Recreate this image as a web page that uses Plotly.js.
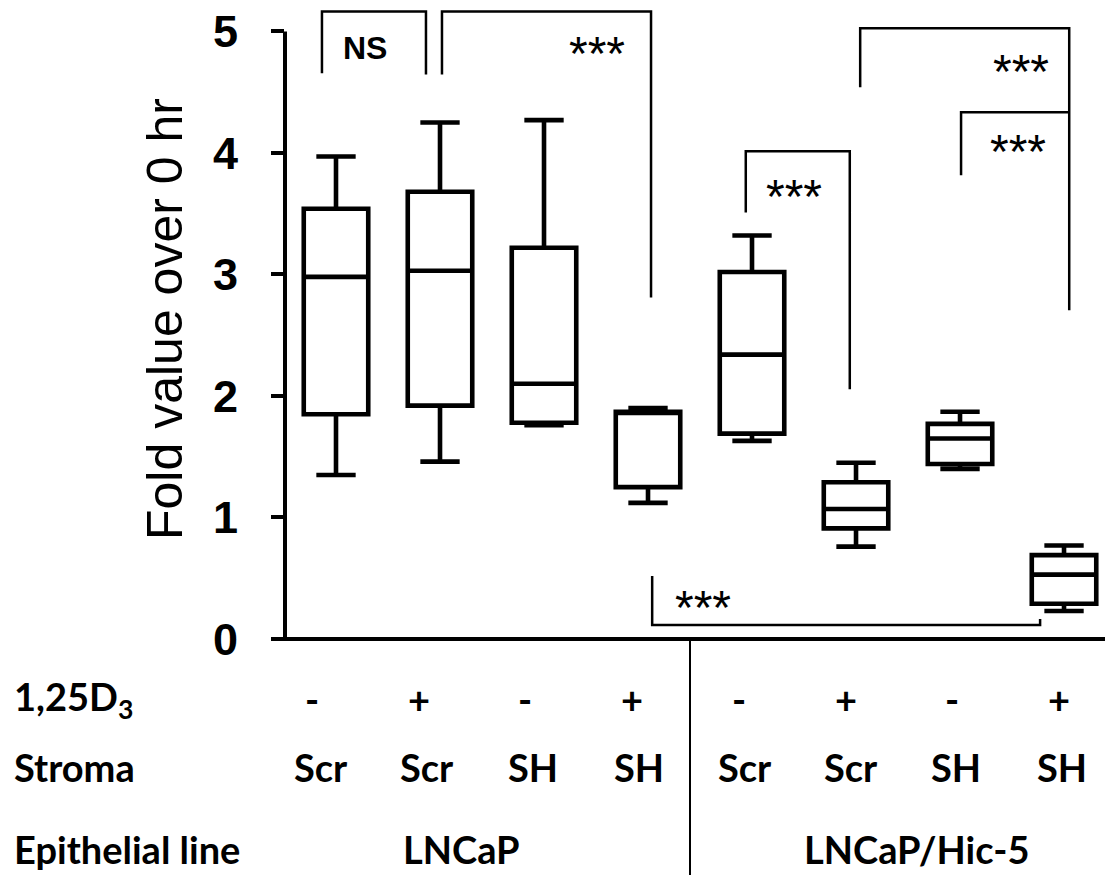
<!DOCTYPE html>
<html>
<head>
<meta charset="utf-8">
<script src="https://cdn.plot.ly/plotly-3.0.1.min.js"></script>
<style>
  html, body { margin: 0; padding: 0; background: #fff; }
  #chart { width: 1109px; height: 875px; }
</style>
</head>
<body>
<div id="chart"></div>
<script>
// ---- data ----
const positions   = [1, 2, 3, 4, 5, 6, 7, 8];
const lowerFence  = [1.35, 1.46, 1.76, 1.12, 1.63, 0.76, 1.40, 0.23];
const q1Values    = [1.85, 1.92, 1.78, 1.25, 1.69, 0.91, 1.44, 0.29];
const medians     = [2.98, 3.03, 2.10, 1.86, 2.34, 1.07, 1.65, 0.53];
const q3Values    = [3.54, 3.68, 3.22, 1.87, 3.02, 1.29, 1.77, 0.69];
const upperFence  = [3.97, 4.25, 4.27, 1.90, 3.32, 1.45, 1.87, 0.77];

const vitaminD    = ['-', '+', '-', '+', '-', '+', '-', '+'];
const stroma      = ['Scr', 'Scr', 'SH', 'SH', 'Scr', 'Scr', 'SH', 'SH'];
const epithelial  = ['LNCaP', 'LNCaP/Hic-5'];
const yTicks      = [0, 1, 2, 3, 4, 5];

// significance comparisons: [leftGroup, rightGroup, label]
const comparisons = [
  [1, 2, 'NS'], [2, 4, '***'], [4, 8, '***'],
  [5, 6, '***'], [6, 8, '***'], [7, 8, '***']
];

// ---- layout helpers (pixel geometry of the figure) ----
const W = 1109, H = 875;
const M = {l: 285, r: 4, t: 1, b: 236};
const plotW = W - M.l - M.r, plotH = H - M.t - M.b;
const xRange = [0.5096, 8.394];
const yRange = [0, 5.25];
const pxToPaperX = px => (px - M.l) / plotW;
const pxToPaperY = py => (H - M.b - py) / plotH;

const box = {
  type: 'box',
  x: positions,
  lowerfence: lowerFence,
  q1: q1Values,
  median: medians,
  q3: q3Values,
  upperfence: upperFence,
  width: 0.62,
  whiskerwidth: 0.61,
  line: {color: '#000', width: 4.6},
  fillcolor: '#fff',
  boxpoints: false,
  hoverinfo: 'skip',
  showlegend: false
};

const shapes = [];
const annotations = [];

// axes lines
shapes.push({type: 'line', xref: 'x domain', yref: 'y domain', x0: 0, x1: 0, y0: 0, y1: 5 / yRange[1],
             line: {color: '#000', width: 4}});
shapes.push({type: 'line', xref: 'x domain', yref: 'y domain', x0: pxToPaperX(272), x1: 1, y0: 0, y1: 0,
             line: {color: '#000', width: 4}});
// group divider
shapes.push({type: 'line', xref: 'x domain', yref: 'y domain', x0: pxToPaperX(690), x1: pxToPaperX(690),
             y0: 0, y1: pxToPaperY(H + 2), line: {color: '#000', width: 2}});

// significance brackets (geometry in data units)
const bracketGeom = [
  {xl: 0.865, xr: 1.865, top: 5.164, yl: 4.655, yr: 4.646, tx: 1.279, ty: 4.86},
  {xl: 2.019, xr: 4.029, top: 5.164, yl: 4.646, yr: 2.81, tx: 3.51, ty: 4.90},
  {xl: 4.04, xr: 7.77, top: 0.115, yl: 0.518, yr: 0.164, tx: 4.53, ty: 0.345},
  {xl: 4.94, xr: 5.94, top: 4.013, yl: 3.51, yr: 2.056, tx: 5.40, ty: 3.725},
  {xl: 6.04, xr: 8.05, top: 5.025, yl: 4.54, yr: 2.706, tx: 7.59, ty: 4.75},
  {xl: 7.01, xr: 8.05, top: 4.334, yl: 3.816, yr: null, tx: 7.56, ty: 4.09}
];
comparisons.forEach((c, i) => {
  const g = bracketGeom[i];
  let path = `M ${g.xl},${g.yl} L ${g.xl},${g.top} L ${g.xr},${g.top}`;
  if (g.yr !== null) path += ` L ${g.xr},${g.yr}`;
  shapes.push({type: 'path', xref: 'x', yref: 'y', path: path,
               line: {color: '#000', width: 2.5}});
  const isStar = c[2] === '***';
  annotations.push({
    xref: 'x', yref: 'y', x: g.tx, y: g.ty, text: c[2], showarrow: false,
    xanchor: 'center', yanchor: 'middle', yshift: isStar ? -10 : 0,
    font: isStar ? {family: 'Liberation Sans, Arial, sans-serif', size: 48, color: '#000'}
                 : {family: 'Liberation Sans, Arial, sans-serif', size: 32, color: '#000', weight: 'bold'}
  });
});

// y-axis title
annotations.push({
  xref: 'paper', yref: 'paper', x: pxToPaperX(165), y: pxToPaperY(319),
  text: 'Fold value over 0 hr', textangle: -90, showarrow: false,
  xanchor: 'center', yanchor: 'middle',
  font: {family: 'Liberation Sans, Arial, sans-serif', size: 50, color: '#000'}
});

// category rows
const labelFont = {family: 'Lato, Carlito, sans-serif', size: 38, color: '#000', weight: 'bold'};
const rowY = [699, 767, 849];
const rowNames = ['1,25D<sub>3</sub>', 'Stroma', 'Epithelial line'];
rowNames.forEach((t, r) => {
  annotations.push({xref: 'paper', yref: 'paper', x: pxToPaperX(12), y: pxToPaperY(rowY[r]),
    text: t, showarrow: false, xanchor: 'left', yanchor: 'middle', font: labelFont});
});
vitaminD.forEach((t, i) => {
  annotations.push({xref: 'paper', yref: 'paper', x: pxToPaperX(312 + i * 106.7), y: pxToPaperY(rowY[0]),
    text: t, showarrow: false, xanchor: 'center', yanchor: 'middle', font: labelFont});
});
stroma.forEach((t, i) => {
  annotations.push({xref: 'paper', yref: 'paper', x: pxToPaperX(321 + i * 105.9), y: pxToPaperY(rowY[1]),
    text: t, showarrow: false, xanchor: 'center', yanchor: 'middle', font: labelFont});
});
const epiX = [461, 917];
epithelial.forEach((t, i) => {
  annotations.push({xref: 'paper', yref: 'paper', x: pxToPaperX(epiX[i]), y: pxToPaperY(rowY[2]),
    text: t, showarrow: false, xanchor: 'center', yanchor: 'middle', font: labelFont});
});

const layout = {
  width: W, height: H,
  margin: M,
  paper_bgcolor: '#fff', plot_bgcolor: '#fff',
  showlegend: false,
  xaxis: {type: 'linear', range: xRange, showline: false, showgrid: false, zeroline: false,
          showticklabels: false, ticks: '', fixedrange: true},
  yaxis: {range: yRange, tickvals: yTicks, ticktext: yTicks.map(String),
          ticks: 'outside', ticklen: 13, tickwidth: 4, tickcolor: '#000',
          showline: false, showgrid: false, zeroline: false, ticklabelstandoff: 24,
          tickfont: {family: 'Liberation Sans, Arial, sans-serif', size: 45, color: '#000', weight: 'bold'},
          fixedrange: true},
  shapes: shapes,
  annotations: annotations
};

Plotly.newPlot('chart', [box], layout, {displayModeBar: false, staticPlot: true});
</script>
</body>
</html>
